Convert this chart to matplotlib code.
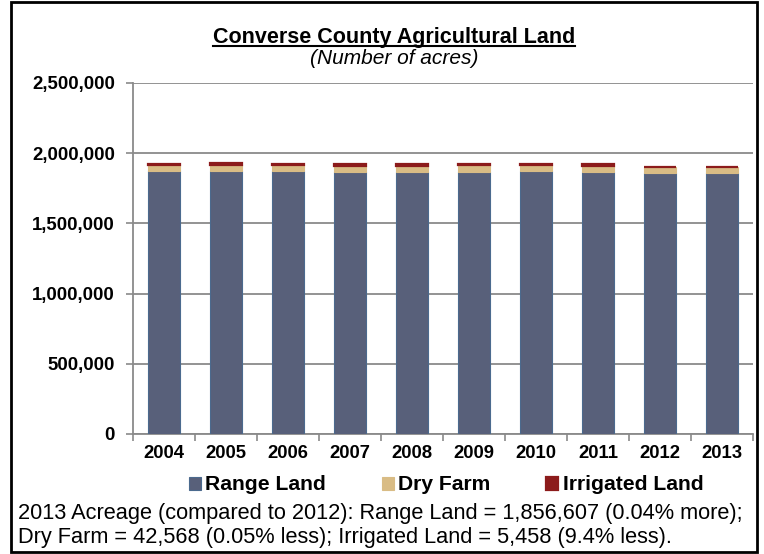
import matplotlib
matplotlib.use("Agg")
import matplotlib.pyplot as plt
from matplotlib.patches import Rectangle
from matplotlib.lines import Line2D
from matplotlib.ticker import FuncFormatter, FixedLocator
import numpy as np

years = ["2004", "2005", "2006", "2007", "2008", "2009", "2010", "2011", "2012", "2013"]
range_land = [1872000, 1874000, 1871000, 1868000, 1868000, 1869000, 1870000, 1869000, 1855900, 1856607]
dry_farm = [44500, 44300, 44000, 43800, 43600, 43400, 43300, 43100, 42589, 42568]
irrigated = [9000, 9000, 8800, 8500, 8500, 8400, 8300, 8200, 6024, 5458]

title = "Converse County Agricultural Land"
subtitle = "(Number of acres)"
note1 = "2013 Acreage (compared to 2012): Range Land = 1,856,607 (0.04% more);"
note2 = "Dry Farm = 42,568 (0.05% less); Irrigated Land = 5,458 (9.4% less)."

plt.rcParams['font.family'] = ['Liberation Sans', 'DejaVu Sans']

fig = plt.figure(figsize=(7.64, 5.54), dpi=100)
W, H = 764, 554
ax = fig.add_axes([133 / W, 1 - 434 / H, (753 - 133) / W, (434 - 83) / H])

x = np.arange(len(years))
bw = 0.53
c_range = "#58607A"
c_dry = "#D9BC85"
c_irr = "#8C1B1B"
b1 = ax.bar(x, range_land, bw, color=c_range, edgecolor="#4B6A8E", linewidth=0.8, label="Range Land", zorder=3)
b2 = ax.bar(x, dry_farm, bw, bottom=range_land, color=c_dry, edgecolor=c_dry, linewidth=0.8, label="Dry Farm", zorder=3)
bottom2 = np.array(range_land) + np.array(dry_farm)
b3 = ax.bar(x, irrigated, bw, bottom=bottom2, color=c_irr, edgecolor=c_irr, linewidth=1.6, label="Irrigated Land", zorder=3)

ax.set_xlim(-0.5, len(years) - 0.5)
ax.set_ylim(0, 2500000)
ax.set_yticks(np.arange(0, 2500001, 500000))
ax.yaxis.set_major_formatter(FuncFormatter(lambda v, p: f"{int(v):,}"))
ax.grid(axis="y", color="#8A8A8A", linewidth=1.3, zorder=0)
ax.set_axisbelow(True)

ax.set_xticks(x)
ax.set_xticklabels(years, fontsize=13.3, fontweight="bold")
ax.tick_params(axis="x", length=0, pad=8)
ax.xaxis.set_minor_locator(FixedLocator(np.arange(-0.5, len(years), 1.0)))
ax.tick_params(axis="x", which="minor", length=5, color="#8A8A8A", width=1.2)
ax.tick_params(axis="y", length=5, color="#8A8A8A", width=1.2, labelsize=13.4, pad=8)
for lab in ax.get_yticklabels():
    lab.set_fontweight("bold")

for s in ["top", "right"]:
    ax.spines[s].set_visible(False)
for s in ["left", "bottom"]:
    ax.spines[s].set_color("#8A8A8A")
    ax.spines[s].set_linewidth(1.3)

# Title
t = fig.text(394 / W, 1 - 37 / H, title, ha="center", va="center", fontsize=15.5, fontweight="bold")
fig.text(394 / W, 1 - 59 / H, subtitle, ha="center", va="center", fontsize=15, style="italic")

# Legend
leg = fig.legend(handles=[b1, b2, b3], loc="center", bbox_to_anchor=(446 / W, 1 - 485 / H),
                 ncol=3, frameon=False, prop={"weight": "bold", "size": 15.2},
                 handlelength=0.57, handleheight=0.57, handletextpad=0.2, columnspacing=2.65,
                 borderpad=0.2)

fig.text(18 / W, 1 - 513 / H, note1, ha="left", va="center", fontsize=15.7)
fig.text(18 / W, 1 - 537 / H, note2, ha="left", va="center", fontsize=15.7)

# Outer border
fig.patches.append(Rectangle((11 / W, 2 / H), (757 - 11) / W, (552 - 2) / H, transform=fig.transFigure,
                             fill=False, edgecolor="black", linewidth=2.0))

# Underline title
fig.canvas.draw()
r = fig.canvas.get_renderer()
bb = t.get_window_extent(renderer=r)
uy = bb.y0 + 1.5
fig.lines.append(Line2D([bb.x0 / W, bb.x1 / W], [uy / H, uy / H], transform=fig.transFigure,
                        color="black", linewidth=1.5))

fig.savefig("out.png", dpi=100)
